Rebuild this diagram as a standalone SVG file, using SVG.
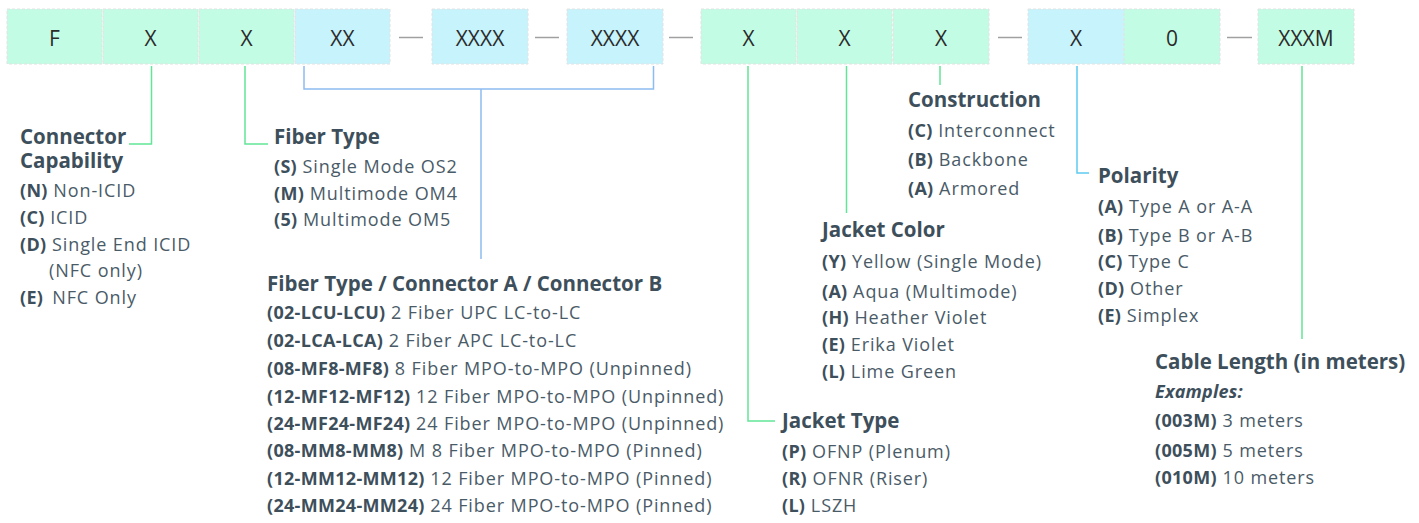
<svg xmlns="http://www.w3.org/2000/svg" width="1419" height="523" viewBox="0 0 1419 523">
<style>
.g{fill:#c3fce5;stroke:#e2e2e2;stroke-width:1;stroke-dasharray:3 2}
.b{fill:#c7f3fd;stroke:#e2e2e2;stroke-width:1;stroke-dasharray:3 2}
.bt{font-family:"Open Sans","Liberation Sans",sans-serif;font-size:21px;font-weight:400;fill:#2b2b2b;text-anchor:middle}
.sep{stroke:#a0a0a0;stroke-width:1.5}
.h{font-family:"Open Sans","Liberation Sans",sans-serif;font-size:20.5px;font-weight:700;fill:#3e4f5c}
.t{font-family:"Open Sans","Liberation Sans",sans-serif;font-size:18px;font-weight:400;letter-spacing:0.9px;fill:#4a5b68}
.k{font-weight:700;letter-spacing:0.3px;fill:#3e4f5c}
.ex{font-weight:700;font-style:italic;letter-spacing:0.2px;fill:#3e4f5c}
.lg{fill:none;stroke:#62e596;stroke-width:1.5}
.lb{fill:none;stroke:#8dbcf2;stroke-width:1.5}
.lc{fill:none;stroke:#5ccbef;stroke-width:1.5}
</style>
<rect width="1419" height="523" fill="#ffffff"/>
<g id="segments">
<g id="seg-F"><rect class="g" x="7" y="9" width="95" height="55"/><text class="bt" x="54.5" y="45.5">F</text></g>
<g id="seg-connector"><rect class="g" x="103" y="9" width="95" height="55"/><text class="bt" x="150.5" y="45.5">X</text></g>
<g id="seg-fiber"><rect class="g" x="199" y="9" width="95" height="55"/><text class="bt" x="246.5" y="45.5">X</text></g>
<g id="seg-count"><rect class="b" x="295" y="9" width="95" height="55"/><text class="bt" x="342.5" y="45.5">XX</text></g>
<g id="seg-connA"><rect class="b" x="432" y="9" width="96" height="55"/><text class="bt" x="480" y="45.5">XXXX</text></g>
<g id="seg-connB"><rect class="b" x="567" y="9" width="96" height="55"/><text class="bt" x="615" y="45.5">XXXX</text></g>
<g id="seg-jtype"><rect class="g" x="701" y="9" width="95" height="55"/><text class="bt" x="748.5" y="45.5">X</text></g>
<g id="seg-jcolor"><rect class="g" x="797" y="9" width="95" height="55"/><text class="bt" x="844.5" y="45.5">X</text></g>
<g id="seg-construction"><rect class="g" x="893" y="9" width="96" height="55"/><text class="bt" x="941" y="45.5">X</text></g>
<g id="seg-polarity"><rect class="b" x="1028" y="9" width="96" height="55"/><text class="bt" x="1076" y="45.5">X</text></g>
<g id="seg-zero"><rect class="g" x="1124" y="9" width="96" height="55"/><text class="bt" x="1172" y="45.5">0</text></g>
<g id="seg-length"><rect class="g" x="1258" y="9" width="96" height="55"/><text class="bt" x="1306" y="45.5">XXXM</text></g>
</g>
<g id="separators">
<line class="sep" x1="399" y1="37.5" x2="423" y2="37.5"/>
<line class="sep" x1="535" y1="37.5" x2="559" y2="37.5"/>
<line class="sep" x1="669" y1="37.5" x2="693" y2="37.5"/>
<line class="sep" x1="998" y1="37.5" x2="1022" y2="37.5"/>
<line class="sep" x1="1227" y1="37.5" x2="1252" y2="37.5"/>
</g>
<g id="connectors">
<path class="lg" d="M151.5,66 V144 H129"/>
<path class="lg" d="M245,66 V144 H268"/>
<path class="lb" d="M304,66 V89 H653.5 V66 M481,89 V259"/>
<path class="lg" d="M748,66 V421 H775"/>
<path class="lg" d="M846.5,66 V213"/>
<path class="lg" d="M940,66 V85"/>
<path class="lc" d="M1077,66 V173 H1089"/>
<path class="lg" d="M1302,66 V339"/>
</g>
<g id="connector-capability">
<text class="h"><tspan x="20" y="144">Connector</tspan><tspan x="20" y="168">Capability</tspan></text>
<text class="t" x="20" y="197"><tspan class="k">(N)</tspan> Non-ICID</text>
<text class="t" x="20" y="224"><tspan class="k">(C)</tspan> ICID</text>
<text class="t" x="20" y="251"><tspan class="k">(D)</tspan> Single End ICID</text>
<text class="t" x="49" y="277">(NFC only)</text>
<text class="t" x="20" y="304"><tspan class="k">(E)</tspan><tspan dx="9">NFC Only</tspan></text>
</g>
<g id="fiber-type">
<text class="h" x="274" y="144">Fiber Type</text>
<text class="t" x="274" y="173"><tspan class="k">(S)</tspan> Single Mode OS2</text>
<text class="t" x="274" y="200"><tspan class="k">(M)</tspan> Multimode OM4</text>
<text class="t" x="274" y="226"><tspan class="k">(5)</tspan> Multimode OM5</text>
</g>
<g id="fiber-connectors">
<text class="h" x="267" y="291">Fiber Type / Connector A / Connector B</text>
<text class="t" x="267" y="319"><tspan class="k">(02-LCU-LCU)</tspan> 2 Fiber UPC LC-to-LC</text>
<text class="t" x="267" y="347"><tspan class="k">(02-LCA-LCA)</tspan> 2 Fiber APC LC-to-LC</text>
<text class="t" x="267" y="375"><tspan class="k">(08-MF8-MF8)</tspan> 8 Fiber MPO-to-MPO (Unpinned)</text>
<text class="t" x="267" y="403"><tspan class="k">(12-MF12-MF12)</tspan> 12 Fiber MPO-to-MPO (Unpinned)</text>
<text class="t" x="267" y="430"><tspan class="k">(24-MF24-MF24)</tspan> 24 Fiber MPO-to-MPO (Unpinned)</text>
<text class="t" x="267" y="457"><tspan class="k">(08-MM8-MM8)</tspan> M 8 Fiber MPO-to-MPO (Pinned)</text>
<text class="t" x="267" y="485"><tspan class="k">(12-MM12-MM12)</tspan> 12 Fiber MPO-to-MPO (Pinned)</text>
<text class="t" x="267" y="512"><tspan class="k">(24-MM24-MM24)</tspan> 24 Fiber MPO-to-MPO (Pinned)</text>
</g>
<g id="jacket-type">
<text class="h" x="782" y="428">Jacket Type</text>
<text class="t" x="782" y="458"><tspan class="k">(P)</tspan> OFNP (Plenum)</text>
<text class="t" x="782" y="485"><tspan class="k">(R)</tspan> OFNR (Riser)</text>
<text class="t" x="782" y="512"><tspan class="k">(L)</tspan> LSZH</text>
</g>
<g id="jacket-color">
<text class="h" x="822" y="237">Jacket Color</text>
<text class="t" x="822" y="268"><tspan class="k">(Y)</tspan> Yellow (Single Mode)</text>
<text class="t" x="822" y="298"><tspan class="k">(A)</tspan> Aqua (Multimode)</text>
<text class="t" x="822" y="324"><tspan class="k">(H)</tspan> Heather Violet</text>
<text class="t" x="822" y="351"><tspan class="k">(E)</tspan> Erika Violet</text>
<text class="t" x="822" y="378"><tspan class="k">(L)</tspan> Lime Green</text>
</g>
<g id="construction">
<text class="h" x="908" y="107">Construction</text>
<text class="t" x="908" y="137"><tspan class="k">(C)</tspan> Interconnect</text>
<text class="t" x="908" y="166"><tspan class="k">(B)</tspan> Backbone</text>
<text class="t" x="908" y="195"><tspan class="k">(A)</tspan> Armored</text>
</g>
<g id="polarity">
<text class="h" x="1098" y="183">Polarity</text>
<text class="t" x="1098" y="213"><tspan class="k">(A)</tspan> Type A or A-A</text>
<text class="t" x="1098" y="242"><tspan class="k">(B)</tspan> Type B or A-B</text>
<text class="t" x="1098" y="268"><tspan class="k">(C)</tspan> Type C</text>
<text class="t" x="1098" y="295"><tspan class="k">(D)</tspan> Other</text>
<text class="t" x="1098" y="322"><tspan class="k">(E)</tspan> Simplex</text>
</g>
<g id="cable-length">
<text class="h" x="1155" y="369">Cable Length (in meters)</text>
<text class="t" x="1155" y="398"><tspan class="ex">Examples:</tspan></text>
<text class="t" x="1155" y="427"><tspan class="k">(003M)</tspan> 3 meters</text>
<text class="t" x="1155" y="457"><tspan class="k">(005M)</tspan> 5 meters</text>
<text class="t" x="1155" y="484"><tspan class="k">(010M)</tspan> 10 meters</text>
</g>
</svg>
